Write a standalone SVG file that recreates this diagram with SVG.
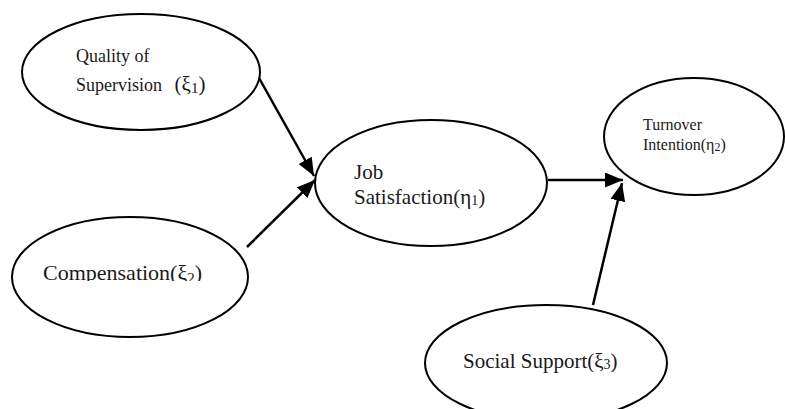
<svg xmlns="http://www.w3.org/2000/svg" width="785" height="409" viewBox="0 0 785 409">
<style>
.node ellipse{fill:#fff;stroke:#000;stroke-width:2}
text{font-family:"Liberation Serif","Times New Roman",serif;fill:#1a1a1a}
.conn line{stroke:#000;stroke-width:2.5;marker-end:url(#ah)}
</style>
<defs>
<marker id="ah" markerUnits="userSpaceOnUse" markerWidth="19" markerHeight="16" refX="18" refY="7.5" orient="auto">
<path d="M0,0 L18,7.5 L0,15 Z" fill="#000"/>
</marker>
<clipPath id="cc"><rect x="0" y="200" width="300" height="81"/></clipPath>
</defs>
<rect width="785" height="409" fill="#fff"/>
<g id="quality" class="node">
<ellipse cx="141" cy="72" rx="119" ry="58"/>
<text x="76" y="62" font-size="18">Quality of</text>
<text x="76" y="91" font-size="18">Supervision <tspan dx="8" font-size="21">(ξ</tspan><tspan font-size="15" dy="2">1</tspan><tspan font-size="21" dy="-2">)</tspan></text>
</g>
<g id="compensation" class="node">
<ellipse cx="130" cy="277" rx="118" ry="60"/>
<text x="43" y="280" font-size="22" clip-path="url(#cc)">Compensation(ξ<tspan font-size="15" dy="3">2</tspan><tspan dy="-3">)</tspan></text>
</g>
<g id="job" class="node">
<ellipse cx="431" cy="183" rx="116" ry="63"/>
<text x="354" y="179" font-size="21">Job</text>
<text x="354" y="204" font-size="21">Satisfaction(η<tspan font-size="14" dy="1">1</tspan><tspan dy="-1">)</tspan></text>
</g>
<g id="turnover" class="node">
<ellipse cx="694" cy="136.5" rx="90" ry="58.5"/>
<text x="643" y="130" font-size="16">Turnover</text>
<text x="643" y="150" font-size="16">Intention(η<tspan font-size="12" dy="1">2</tspan><tspan dy="-1">)</tspan></text>
</g>
<g id="social" class="node">
<ellipse cx="546" cy="363" rx="121" ry="58"/>
<text x="463" y="368" font-size="21">Social Support(ξ<tspan font-size="14" dy="1">3</tspan><tspan dy="-1">)</tspan></text>
</g>
<g id="connectors" class="conn">
<line x1="259" y1="78" x2="314" y2="176"/>
<line x1="247" y1="247" x2="315" y2="180"/>
<line x1="548" y1="180" x2="623" y2="180"/>
<line x1="593" y1="305" x2="622" y2="183"/>
</g>
</svg>
